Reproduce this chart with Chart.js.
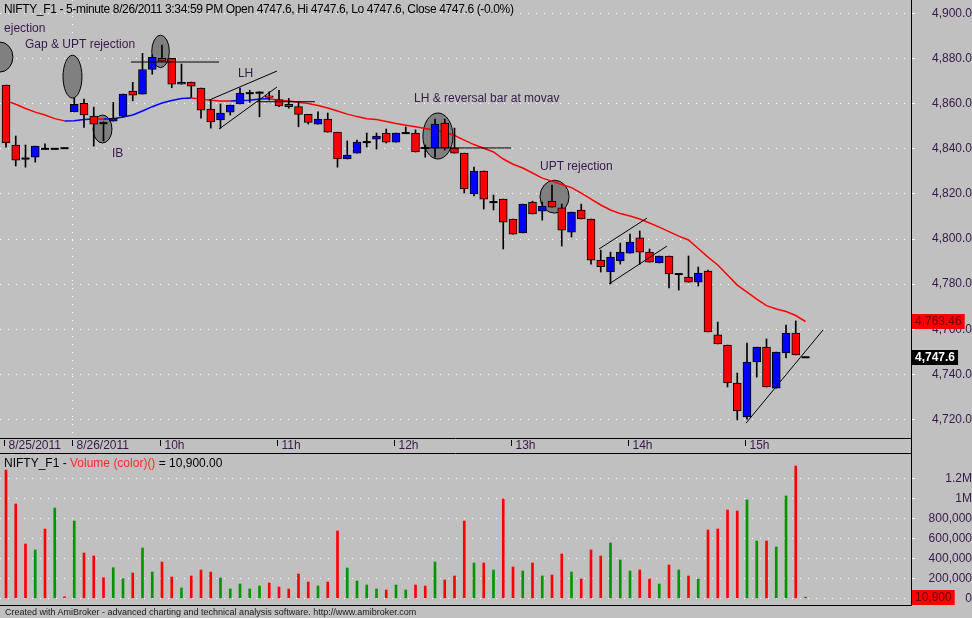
<!DOCTYPE html>
<html>
<head>
<meta charset="utf-8">
<title>NIFTY_F1 - 5-minute</title>
<script src="https://cdn.jsdelivr.net/npm/chart.js@4.4.1/dist/chart.umd.min.js"></script>
<style>
  body { margin: 0; background: #c0c0c0; }
  #wrap { position: relative; width: 972px; height: 618px; overflow: hidden; background: #c0c0c0;
          font-family: "Liberation Sans", Arial, sans-serif; }
  canvas { position: absolute; left: 0; }
  .txt { position: absolute; left: 4px; font-size: 12px; line-height: 14px; white-space: nowrap; color: #000; }
</style>
</head>
<body>
<div id="wrap">
  <canvas id="priceChart" width="972" height="454" style="top:0"></canvas>
  <canvas id="volChart" width="972" height="152" style="top:454px"></canvas>
  <div class="txt" style="top:2px;letter-spacing:-0.36px">NIFTY_F1 - 5-minute 8/26/2011 3:34:59 PM Open 4747.6, Hi 4747.6, Lo 4747.6, Close 4747.6 (-0.0%)</div>
  <div class="txt" style="top:456px">NIFTY_F1 - <span style="color:#ff2828">Volume (color)()</span> = 10,900.00</div>
  <div class="txt" style="top:605px;left:5px;font-size:9px;color:#202020">Created with AmiBroker - advanced charting and technical analysis software. http://www.amibroker.com</div>
</div>
<script>
// ── DATA (5-minute bars, 8/25 15:00 .. 8/26 15:30) ──
const opens = [4868.3, 4841.7, 4835.7, 4836.3, 4840.0, 4840.0, 4840.3, 4856.4, 4860.2, 4854.5,
  4851.4, 4852.3, 4854.5, 4865.6, 4864.3, 4875.2, 4880.1, 4880.1, 4868.7, 4869.6,
  4866.9, 4857.6, 4852.8, 4856.3, 4859.9, 4864.7, 4864.9, 4863.5, 4861.9, 4859.7,
  4858.7, 4855.3, 4850.9, 4853.2, 4847.4, 4835.5, 4838.1, 4843.0, 4844.3, 4847.0,
  4843.0, 4847.0, 4847.0, 4840.4, 4840.4, 4851.4, 4840.4, 4838.1, 4820.0, 4830.2,
  4816.4, 4817.7, 4808.9, 4802.7, 4816.4, 4812.4, 4816.8, 4813.8, 4803.1, 4812.9,
  4808.9, 4790.7, 4785.4, 4790.3, 4793.8, 4800.5, 4794.2, 4789.4, 4792.5, 4784.5,
  4783.2, 4780.9, 4785.8, 4757.5, 4753.0, 4736.2, 4721.1, 4745.5, 4752.1, 4733.9,
  4749.5, 4758.3, 4747.6];
const highs = [4868.3, 4845.7, 4841.7, 4841.2, 4842.2, 4840.0, 4840.3, 4862.5, 4862.1, 4858.5,
  4852.0, 4860.6, 4864.3, 4869.5, 4882.3, 4881.6, 4886.0, 4880.1, 4877.6, 4869.6,
  4866.9, 4861.6, 4859.9, 4859.4, 4866.9, 4866.0, 4865.4, 4865.3, 4866.0, 4862.4,
  4860.6, 4855.3, 4856.4, 4855.9, 4847.4, 4843.5, 4843.9, 4847.0, 4847.0, 4848.8,
  4847.0, 4849.7, 4848.4, 4841.7, 4853.2, 4853.2, 4849.2, 4838.1, 4831.9, 4830.2,
  4819.5, 4817.7, 4808.9, 4815.5, 4816.8, 4816.4, 4823.9, 4815.5, 4812.0, 4815.5,
  4808.9, 4795.1, 4794.2, 4798.2, 4802.2, 4803.6, 4795.6, 4792.5, 4792.5, 4784.5,
  4792.5, 4787.6, 4786.3, 4763.2, 4753.0, 4740.6, 4753.9, 4752.1, 4755.7, 4749.9,
  4761.9, 4763.7, 4747.6];
const lows = [4840.8, 4832.4, 4831.9, 4834.1, 4840.0, 4840.0, 4840.3, 4856.4, 4849.5, 4841.2,
  4843.5, 4852.3, 4854.1, 4861.3, 4864.3, 4873.1, 4878.9, 4867.1, 4868.7, 4862.9,
  4853.6, 4849.2, 4849.2, 4855.0, 4859.9, 4860.6, 4854.2, 4861.6, 4858.7, 4858.0,
  4849.8, 4851.0, 4850.9, 4847.4, 4831.9, 4835.5, 4838.1, 4840.8, 4839.9, 4842.6,
  4843.0, 4847.0, 4838.6, 4836.3, 4836.3, 4839.5, 4838.1, 4820.4, 4819.1, 4813.3,
  4812.9, 4795.6, 4802.2, 4802.7, 4811.1, 4808.4, 4814.2, 4796.9, 4800.9, 4808.9,
  4788.9, 4785.4, 4780.1, 4788.9, 4793.8, 4788.9, 4789.8, 4789.4, 4778.3, 4777.4,
  4780.9, 4779.2, 4758.8, 4753.5, 4734.4, 4719.8, 4720.2, 4738.8, 4734.4, 4733.9,
  4747.3, 4748.6, 4747.6];
const closes = [4842.6, 4835.0, 4835.7, 4841.2, 4840.0, 4840.0, 4840.3, 4859.7, 4855.0, 4851.0,
  4851.4, 4853.5, 4864.3, 4863.8, 4875.2, 4880.6, 4878.9, 4868.7, 4869.5, 4867.8,
  4857.2, 4851.9, 4855.9, 4859.4, 4864.7, 4864.7, 4864.9, 4862.8, 4859.0, 4858.7,
  4855.3, 4851.7, 4853.2, 4847.4, 4835.5, 4837.2, 4843.0, 4843.0, 4845.7, 4843.0,
  4847.0, 4847.0, 4838.6, 4840.4, 4851.0, 4840.4, 4838.1, 4822.2, 4830.2, 4817.7,
  4816.4, 4807.5, 4802.2, 4815.5, 4811.1, 4814.6, 4814.2, 4804.0, 4812.0, 4808.9,
  4790.7, 4787.8, 4792.0, 4794.2, 4798.7, 4794.2, 4789.8, 4792.5, 4784.5, 4784.5,
  4780.9, 4784.9, 4758.8, 4753.5, 4736.2, 4723.8, 4745.5, 4752.1, 4734.4, 4749.9,
  4758.3, 4748.6, 4747.6];
// moving average as drawn on the chart
const maVals = [4861.4, 4859.8, 4857.9, 4856.3, 4855.0, 4853.4, 4852.4, 4852.5, 4853.0, 4853.2,
  4853.2, 4853.4, 4854.1, 4855.0, 4856.8, 4858.7, 4860.3, 4861.4, 4862.3, 4862.5,
  4862.1, 4861.6, 4861.2, 4861.2, 4861.4, 4861.6, 4862.1, 4862.2, 4861.6, 4861.2,
  4860.7, 4860.1, 4859.2, 4858.1, 4856.8, 4855.4, 4854.3, 4853.4, 4853.0, 4852.1,
  4851.2, 4850.5, 4849.8, 4849.0, 4848.1, 4847.4, 4845.9, 4843.9, 4841.9, 4840.3,
  4838.6, 4835.5, 4833.2, 4831.5, 4829.3, 4827.0, 4825.7, 4824.2, 4822.8, 4820.4,
  4817.7, 4815.1, 4812.9, 4811.3, 4810.2, 4808.9, 4807.1, 4805.3, 4803.3, 4801.3,
  4799.6, 4795.8, 4792.0, 4788.5, 4784.1, 4779.6, 4776.5, 4773.4, 4770.5, 4769.0,
  4767.9, 4766.1, 4763.46];
const volumes = [1283000, 943000, 543000, 483000, 693000, 903000, 15000, 773000, 453000, 423000,
  206000, 306000, 196000, 253000, 503000, 263000, 363000, 213000, 103000, 223000,
  283000, 263000, 203000, 93000, 143000, 93000, 123000, 153000, 113000, 93000,
  243000, 163000, 123000, 163000, 673000, 303000, 173000, 133000, 93000, 83000,
  133000, 83000, 133000, 123000, 363000, 183000, 223000, 773000, 353000, 353000,
  283000, 993000, 313000, 273000, 353000, 223000, 233000, 443000, 263000, 193000,
  483000, 423000, 553000, 383000, 273000, 283000, 193000, 143000, 333000, 283000,
  223000, 193000, 683000, 693000, 883000, 873000, 983000, 573000, 573000, 513000,
  1023000, 1323000, 10900];
const volUp = [0, 0, 0, 1, 0, 1, 0, 1, 0, 0,
  0, 1, 1, 0, 1, 1, 0, 0, 1, 0,
  0, 0, 1, 1, 1, 1, 1, 0, 0, 0,
  0, 0, 1, 0, 0, 1, 1, 1, 1, 0,
  1, 1, 0, 0, 1, 0, 0, 0, 1, 0,
  1, 0, 0, 1, 0, 1, 0, 0, 1, 0,
  0, 0, 1, 1, 1, 0, 0, 1, 0, 1,
  0, 1, 0, 0, 0, 0, 1, 1, 0, 1,
  1, 0, 0];
const tickIdx = [0, 7, 16, 28, 40, 52, 64, 76];
const tickLabels = ['8/25/2011', '8/26/2011', '10h', '11h', '12h', '13h', '14h', '15h'];
const priceTicks = [4720, 4740, 4760, 4780, 4800, 4820, 4840, 4860, 4880, 4900];
const volTicks = [0, 200000, 400000, 600000, 800000, 1000000, 1200000];
const volTickLabels = ['0', '200,000', '400,000', '600,000', '800,000', '1M', '1.2M'];

// ── HAND DRAWN STUDIES (bar index / price units) ──
const ovals = [
  { i: -0.62, p: 4880.7, di: 1.33, dp: 6.65 },
  { i: 6.82, p: 4872.0, di: 0.97, dp: 9.5 },
  { i: 9.9, p: 4848.8, di: 0.97, dp: 6.2 },
  { i: 15.85, p: 4883.2, di: 0.9, dp: 7.2 },
  { i: 44.3, p: 4845.7, di: 1.54, dp: 10.2 },
  { i: 56.26, p: 4818.8, di: 1.49, dp: 7.3 }
];
const studyLines = [
  [12.82, 4878.5, 21.85, 4878.5],
  [20.82, 4861.6, 27.79, 4874.5],
  [21.85, 4848.8, 27.79, 4867.4],
  [25.74, 4860.9, 31.69, 4860.9],
  [42.46, 4840.4, 51.8, 4840.4],
  [60.82, 4795.6, 65.74, 4809.3],
  [61.85, 4780.1, 67.79, 4796.9],
  [75.9, 4718.4, 83.8, 4759.7]
];
const notes = [
  { i: -0.2, p: 4893.3, t: 'ejection' },
  { i: 1.95, p: 4886.0, t: 'Gap & UPT rejection' },
  { i: 10.87, p: 4838.0, t: 'IB' },
  { i: 23.79, p: 4873.2, t: 'LH' },
  { i: 41.85, p: 4862.1, t: 'LH & reversal bar at movav' },
  { i: 54.77, p: 4832.0, t: 'UPT rejection' }
];

// ── LOOK ──
const UP = '#0000ff', DOWN = '#ff0000', VOL_UP = '#009600';
const LABEL = '#38184a';
const X_MIN = -0.615, X_MAX = 92.82;
const AXIS_W = 61;
const FONT = '12px "Liberation Sans", Arial, sans-serif';
Chart.defaults.font.family = '"Liberation Sans", Arial, sans-serif';
Chart.defaults.font.size = 12;

// hidden bar axis: no labels, no padding, so the plot starts at the left edge
const barAxis = {
  type: 'linear', min: X_MIN, max: X_MAX, offset: false, display: false,
  ticks: { display: false },
  afterFit: s => { s.paddingLeft = 0; s.paddingRight = 0; }
};

function rightAxis(ticksList, fmt, pad) {
  return {
    position: 'right',
    afterBuildTicks: s => { s.ticks = ticksList.map(v => ({ value: v })); },
    afterFit: s => { s.width = AXIS_W; s.paddingTop = 0; s.paddingBottom = 0; },
    ticks: { color: LABEL, padding: pad, crossAlign: 'far', callback: fmt },
    grid: { color: '#ffffff', tickColor: '#ffffff', tickLength: 4, tickBorderDash: [] },
    border: { display: true, color: '#000', dash: [1, 7] }
  };
}

function tag(ctx, x0, cy, text, fill, ink, bold) {
  ctx.font = (bold ? 'bold ' : '') + FONT;
  const w = ctx.measureText(text).width + 6;
  ctx.fillStyle = fill;
  ctx.fillRect(x0, Math.round(cy) - 7, w, 15);
  ctx.fillStyle = ink;
  ctx.textAlign = 'left';
  ctx.textBaseline = 'middle';
  ctx.fillText(text, x0 + 3, Math.round(cy) + 1);
}

// ── PRICE PANEL ──
const priceDecor = {
  id: 'priceDecor',
  beforeDatasetsDraw(chart) {
    const { ctx, chartArea: a, scales: { x, y } } = chart;
    ctx.save();
    // day separator
    const sx = Math.round(x.getPixelForValue(tickIdx[1])) - 1.5;
    ctx.strokeStyle = '#ffffff';
    ctx.lineWidth = 1;
    ctx.setLineDash([1, 7]);
    ctx.beginPath(); ctx.moveTo(sx, a.top); ctx.lineTo(sx, a.bottom); ctx.stroke();
    ctx.setLineDash([]);
    ctx.beginPath(); ctx.rect(a.left, a.top, a.right - a.left, a.bottom - a.top); ctx.clip();
    ctx.fillStyle = '#808080';
    ctx.strokeStyle = '#000';
    ovals.forEach(o => {
      const cx = x.getPixelForValue(o.i), cy = y.getPixelForValue(o.p);
      const rx = x.getPixelForValue(o.i + o.di) - cx;
      const ry = cy - y.getPixelForValue(o.p + o.dp);
      ctx.beginPath(); ctx.ellipse(cx, cy, rx, ry, 0, 0, Math.PI * 2);
      ctx.fill(); ctx.stroke();
    });
    ctx.restore();
  },
  afterDatasetsDraw(chart) {
    const { ctx, scales: { x, y } } = chart;
    ctx.save();
    ctx.strokeStyle = '#000';
    ctx.lineWidth = 1;
    studyLines.forEach(l => {
      ctx.beginPath();
      ctx.moveTo(x.getPixelForValue(l[0]), y.getPixelForValue(l[1]));
      ctx.lineTo(x.getPixelForValue(l[2]), y.getPixelForValue(l[3]));
      ctx.stroke();
    });
    ctx.font = FONT;
    ctx.fillStyle = LABEL;
    ctx.textAlign = 'left';
    ctx.textBaseline = 'middle';
    notes.forEach(n => ctx.fillText(n.t, x.getPixelForValue(n.i), y.getPixelForValue(n.p)));
    ctx.restore();
  },
  afterDraw(chart) {
    const { ctx, chartArea: a, scales: { x, y } } = chart;
    const h = chart.height;
    ctx.save();
    // time strip
    ctx.strokeStyle = '#000';
    ctx.lineWidth = 1;
    ctx.beginPath();
    ctx.moveTo(0, a.bottom + 0.5); ctx.lineTo(a.right, a.bottom + 0.5);
    ctx.moveTo(0, h - 0.5); ctx.lineTo(a.right, h - 0.5);
    ctx.moveTo(a.right + 0.5, a.bottom); ctx.lineTo(a.right + 0.5, h);
    ctx.stroke();
    ctx.font = FONT;
    ctx.fillStyle = LABEL;
    ctx.textAlign = 'left';
    ctx.textBaseline = 'middle';
    tickIdx.forEach((t, k) => {
      const px = Math.round(x.getPixelForValue(t)) - 1.5;
      ctx.beginPath(); ctx.moveTo(px, a.bottom + 2); ctx.lineTo(px, a.bottom + 8); ctx.stroke();
      ctx.fillText(tickLabels[k], px + 4, a.bottom + 8);
    });
    // last value tags
    const ma = maVals[maVals.length - 1], cl = closes[closes.length - 1];
    tag(ctx, a.right + 1, y.getPixelForValue(ma), ma.toFixed(2).replace(/^(\d)(\d{3})/, '$1,$2'), '#ff0000', '#6a0000', false);
    tag(ctx, a.right + 1, y.getPixelForValue(cl), cl.toFixed(1).replace(/^(\d)(\d{3})/, '$1,$2'), '#000000', '#ffffff', true);
    ctx.restore();
  }
};

const priceChart = new Chart(document.getElementById('priceChart'), {
  type: 'bar',
  data: {
    datasets: [
      {
        type: 'bar', label: 'Body', order: 0, grouped: false,
        data: opens.map((o, i) => ({ x: i, y: [o, closes[i]] })),
        barThickness: 8,
        backgroundColor: c => closes[c.dataIndex] > opens[c.dataIndex] ? UP : DOWN,
        borderColor: '#000', borderWidth: 1, borderSkipped: false
      },
      {
        type: 'scatter', label: 'Doji', order: 1,
        data: opens.map((o, i) => o === closes[i] ? { x: i, y: o } : null).filter(Boolean),
        pointStyle: 'line', pointRadius: 4, borderColor: '#000', borderWidth: 2
      },
      {
        type: 'bar', label: 'Wick', order: 2, grouped: false,
        data: lows.map((l, i) => ({ x: i, y: [l, highs[i]] })),
        barThickness: 1, backgroundColor: '#000'
      },
      {
        type: 'line', label: 'MA', order: 3,
        data: maVals.map((v, i) => ({ x: i, y: v })),
        borderColor: DOWN, borderWidth: 1.5, pointRadius: 0,
        segment: { borderColor: s => s.p1.parsed.y > s.p0.parsed.y ? UP : DOWN }
      }
    ]
  },
  options: {
    responsive: false,
    animation: false,
    events: [],
    layout: { autoPadding: false, padding: { top: 0, left: 0, right: 0, bottom: 16 } },
    plugins: { legend: { display: false }, tooltip: { enabled: false } },
    scales: {
      x: barAxis,
      y: Object.assign(rightAxis(priceTicks,
        v => v.toLocaleString('en-US', { minimumFractionDigits: 1, maximumFractionDigits: 1 }), 15),
        { min: 4711.8, max: 4906.0 })
    }
  },
  plugins: [priceDecor]
});

// ── VOLUME PANEL ──
const volDecor = {
  id: 'volDecor',
  afterDraw(chart) {
    const { ctx, chartArea: a, scales: { y } } = chart;
    ctx.save();
    ctx.strokeStyle = '#000';
    ctx.lineWidth = 1;
    ctx.beginPath(); ctx.moveTo(0, a.bottom + 0.5); ctx.lineTo(a.right + 1, a.bottom + 0.5); ctx.stroke();
    const last = volumes[volumes.length - 1];
    tag(ctx, a.right + 1, y.getPixelForValue(last), last.toLocaleString('en-US'), '#ff0000', '#6a0000', false);
    ctx.restore();
  }
};

const volChart = new Chart(document.getElementById('volChart'), {
  type: 'bar',
  data: {
    datasets: [{
      label: 'Volume', grouped: false,
      data: volumes.map((v, i) => ({ x: i, y: v })),
      barThickness: 2,
      backgroundColor: c => volUp[c.dataIndex] ? VOL_UP : DOWN
    }]
  },
  options: {
    responsive: false,
    animation: false,
    events: [],
    layout: { autoPadding: false, padding: { top: 0, left: 0, right: 0, bottom: 1 } },
    plugins: { legend: { display: false }, tooltip: { enabled: false } },
    scales: {
      x: barAxis,
      y: Object.assign(rightAxis(volTicks, (v, k) => volTickLabels[k], 12),
        { min: -67000, max: 1443000 })
    }
  },
  plugins: [volDecor]
});
</script>
</body>
</html>
